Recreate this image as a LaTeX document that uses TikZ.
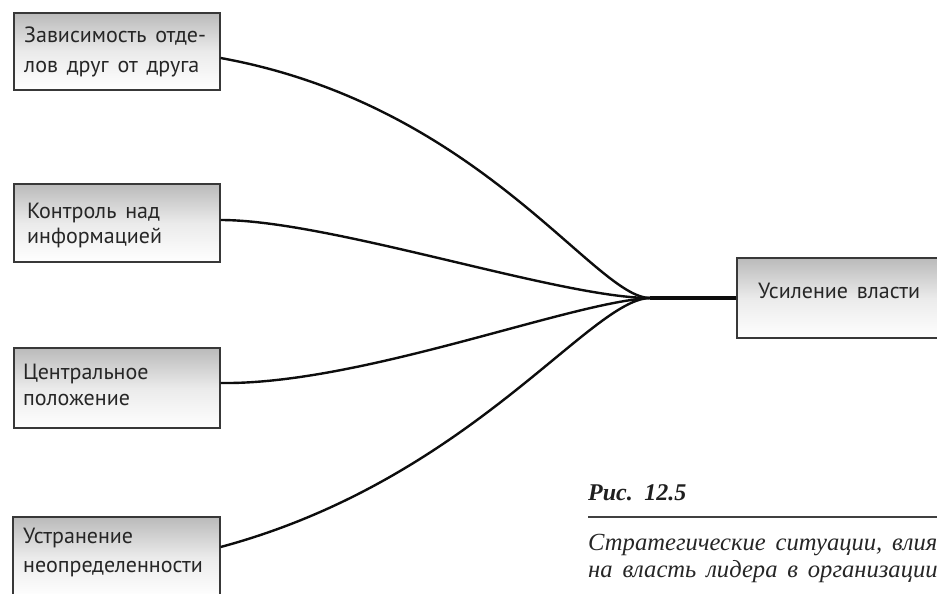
\documentclass[tikz,border=0pt]{standalone}
\usepackage{fontspec}
\setmainfont{Liberation Serif}
\newfontfamily\boxfont[WordSpace=1.5]{PT Sans}
\newfontfamily\capfont[WordSpace=1.6]{Liberation Serif}
\begin{document}
\begin{tikzpicture}[x=1pt,y=-1pt,
  box/.style={draw=black!78, line width=1.2pt, inner sep=0pt,
    top color=black!27, bottom color=white, middle color=black!8},
  lbl/.style={anchor=base west, inner sep=0pt,
    font=\boxfont\fontsize{22}{26}\selectfont, text=black!85},
  link/.style={line width=2.4pt, draw=black!95},
  captext/.style={anchor=base west, inner sep=0pt,
    font=\capfont\itshape\fontsize{24.6}{28}\selectfont, text=black!85},
]
\useasboundingbox (0,0) rectangle (937,594);
\clip (0,0) rectangle (937,594);
\fill[white] (0,0) rectangle (937,594);

% boxes
\node[box, minimum width=206pt, minimum height=77pt] (b1) at (117,51.5) {};
\node[box, minimum width=206pt, minimum height=78pt] (b2) at (117,223) {};
\node[box, minimum width=206pt, minimum height=80pt] (b3) at (117,388) {};
\node[box, minimum width=207pt, minimum height=80pt] (b4) at (116.5,557) {};
\node[box, minimum width=262pt, minimum height=80pt] (r) at (868,298) {};

% box texts
\node[lbl] (t1a) at (24,43) {Зависимость отде-};
\node[lbl] (t1b) at (24,73) {лов друг от друга};
\node[lbl] (t2a) at (27,218) {Контроль над};
\node[lbl] (t2b) at (27,243) {информацией};
\node[lbl] (t3a) at (23,379) {Центральное};
\node[lbl] (t3b) at (23,405) {положение};
\node[lbl] (t4a) at (23,543) {Устранение};
\node[lbl] (t4b) at (23,572) {неопределенности};
\node[lbl] (tr) at (758,298) {Усиление власти};

% connectors
\coordinate (m) at (650,298);
\draw[link] ([yshift=-6.5pt]b1.east) .. controls (480,105) and (595,298) .. (m);
\draw[link] ([yshift=3pt]b2.east) .. controls (330,220) and (560,298) .. (m);
\draw[link] ([yshift=5pt]b3.east) .. controls (360,385) and (570,302) .. (m);
\draw[link] ([yshift=10pt]b4.east) .. controls (470,480) and (590,299) .. (m);
\draw[line width=4.5pt, black!95] (m) -- (r.west);

% caption
\node[anchor=base west, inner sep=0pt,
  font=\capfont\bfseries\itshape\fontsize{24}{28}\selectfont, text=black!88]
  (fig) at (588,500) {Рис. 12.5};
\coordinate (s1) at (588,517);
\coordinate (s2) at (937,517);
\draw[line width=1.2pt, black!75] (s1) -- (s2);
\node[captext] (c1) at (588,550) {Стратегические ситуации, влия};
\node[captext] (c2) at (588,577) {на власть лидера в организации};
\end{tikzpicture}
\end{document}
